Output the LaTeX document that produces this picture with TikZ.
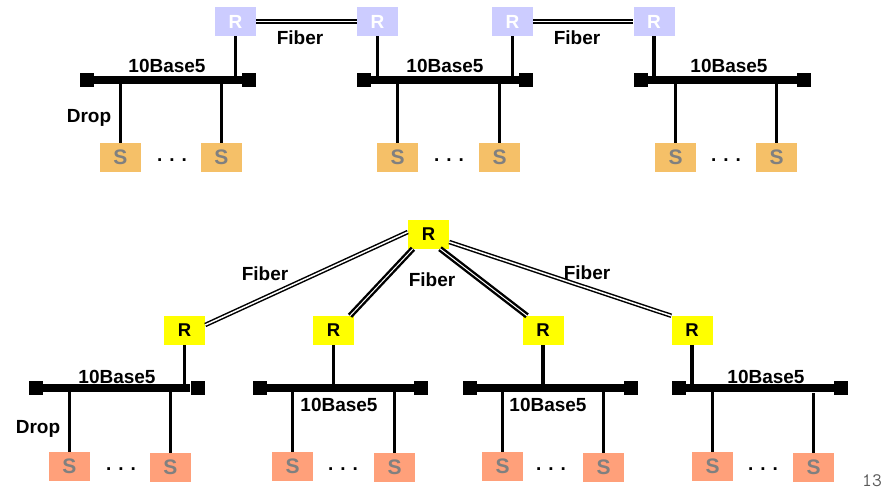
\documentclass[tikz,border=0pt]{standalone}
\usepackage{fontspec}
\setmainfont{Liberation Sans}
\usetikzlibrary{calc}
\definecolor{rtopc}{RGB}{204,204,255}
\definecolor{stopc}{RGB}{245,192,104}
\definecolor{sbotc}{RGB}{255,160,122}
\definecolor{yboxc}{RGB}{255,255,0}
\definecolor{sgreyc}{RGB}{128,128,128}
\tikzset{
  boxbase/.style={rectangle, inner sep=0pt, minimum width=41pt, minimum height=29pt},
  rtopbox/.style={boxbase, fill=rtopc, text=white, font=\fontsize{19}{19}\selectfont\bfseries},
  rbotbox/.style={boxbase, fill=yboxc, text=black, font=\fontsize{18.5}{18.5}\selectfont\bfseries},
  stopbox/.style={boxbase, fill=stopc, text=sgreyc, font=\fontsize{21}{21}\selectfont\bfseries},
  sbotbox/.style={boxbase, fill=sbotc, text=sgreyc, font=\fontsize{21}{21}\selectfont\bfseries},
  endcap/.style={rectangle, fill=black, inner sep=0pt, minimum width=14pt, minimum height=14.5pt},
  busline/.style={line width=7.5pt},
  dropline/.style={line width=3.2pt},
  fiberthin/.style={line width=1.5pt, double=white, double distance=1.5pt},
  fiberthick/.style={line width=2.4pt, double=white, double distance=1pt},
  lbl/.style={inner sep=0pt, anchor=base, font=\fontsize{19}{19}\selectfont\bfseries},
  dots/.style={inner sep=0pt, font=\fontsize{19}{19}\selectfont\bfseries},
}
\begin{document}
\begin{tikzpicture}[x=1pt, y=-1pt]
\useasboundingbox (0,0) rectangle (883,489);

% ---------- top row ----------
\node[rtopbox] (rt1) at (235.5,21.5) {R};
\node[rtopbox] (rt2) at (377.5,21.5) {R};
\node[rtopbox] (rt3) at (512.5,21.5) {R};
\node[rtopbox] (rt4) at (654,21.5) {R};

\node[endcap] (tl1) at (87,80) {};
\node[endcap] (tr1) at (249,80) {};
\node[endcap] (tl2) at (364,80) {};
\node[endcap] (tr2) at (526,80) {};
\node[endcap] (tl3) at (641,80) {};
\node[endcap] (tr3) at (804,80) {};

\node[stopbox] (st11) at (120.5,157.5) {S};
\node[stopbox] (st12) at (221.5,157.5) {S};
\node[stopbox] (st21) at (397.5,157.5) {S};
\node[stopbox] (st22) at (499.5,157.5) {S};
\node[stopbox] (st31) at (675.5,157.5) {S};
\node[stopbox] (st32) at (776.5,157.5) {S};

\draw[busline] (tl1) -- (tr1);
\draw[busline] (tl2) -- (tr2);
\draw[busline] (tl3) -- (tr3);

\draw[dropline] (rt1.south) -- (rt1.south |- tl1);
\draw[dropline] (rt2.south) -- (rt2.south |- tl2);
\draw[dropline] (rt3.south) -- (rt3.south |- tl2);
\draw[dropline] (rt4.south) -- (rt4.south |- tl3);

\foreach \s/\b in {st11/tl1, st12/tl1, st21/tl2, st22/tl2, st31/tl3, st32/tl3}
  \draw[dropline] (\s.north) -- (\s.north |- \b);

\draw[fiberthin] (rt1.east) -- (rt2.west);
\draw[fiberthin] (rt3.east) -- (rt4.west);

\node[lbl] (tf1) at (300,45) {Fiber};
\node[lbl] (tf2) at (577,45) {Fiber};
\node[lbl] (tb1) at (167,73) {10Base5};
\node[lbl] (tb2) at (445,73) {10Base5};
\node[lbl] (tb3) at (729,73) {10Base5};
\node[lbl] (tdrop) at (89,122.5) {Drop};
\node[dots] (td1) at (172,160) {. . .};
\node[dots] (td2) at (449,160) {. . .};
\node[dots] (td3) at (726,160) {. . .};

% ---------- bottom row ----------
\node[rbotbox] (hub) at (428.5,234) {R};
\node[rbotbox] (rb1) at (184.5,330.5) {R};
\node[rbotbox] (rb2) at (333.5,330.5) {R};
\node[rbotbox] (rb3) at (543,330.5) {R};
\node[rbotbox] (rb4) at (692,330.5) {R};

\node[endcap] (bl1) at (36,388) {};
\node[endcap] (br1) at (197.5,388) {};
\node[endcap] (bl2) at (259.5,388) {};
\node[endcap] (br2) at (421,388) {};
\node[endcap] (bl3) at (469.5,388) {};
\node[endcap] (br3) at (631,388) {};
\node[endcap] (bl4) at (679,388) {};
\node[endcap] (br4) at (841,388) {};

\node[sbotbox] (sb11) at (69.5,466.5) {S};
\node[sbotbox] (sb12) at (170.5,467.5) {S};
\node[sbotbox] (sb21) at (292.5,466.5) {S};
\node[sbotbox] (sb22) at (394.5,467.5) {S};
\node[sbotbox] (sb31) at (502.5,466.5) {S};
\node[sbotbox] (sb32) at (603.5,467.5) {S};
\node[sbotbox] (sb41) at (712.5,466.5) {S};
\node[sbotbox] (sb42) at (813.5,467.5) {S};

\draw[busline] (bl1) -- (br1);
\draw[busline] (bl2) -- (br2);
\draw[busline] (bl3) -- (br3);
\draw[busline] (bl4) -- (br4);

\draw[dropline] (rb1.south) -- (rb1.south |- bl1);
\draw[dropline] (rb2.south) -- (rb2.south |- bl2);
\draw[dropline] (rb3.south) -- (rb3.south |- bl3);
\draw[dropline] (rb4.south) -- (rb4.south |- bl4);

\foreach \s/\b in {sb11/bl1, sb12/bl1, sb21/bl2, sb22/bl2, sb31/bl3, sb32/bl3, sb41/bl4}
  \draw[dropline] (\s.north) -- (\s.north |- \b);
\draw[dropline] (sb42.north) -- ($(sb42.north |- bl4)+(0,5)$);

\draw[fiberthin] ([yshift=2pt]hub.west) -- ([yshift=5.5pt]rb1.east);
\draw[fiberthick] ([xshift=-15.5pt]hub.south) -- ([xshift=16.5pt]rb2.north);
\draw[fiberthick] ([xshift=11.5pt]hub.south) -- ([xshift=-16pt]rb3.north);
\draw[fiberthin] ([yshift=-8pt]hub.east) -- (rb4.north west);

\node[lbl] (bf1) at (265,280) {Fiber};
\node[lbl] (bf2) at (432,286) {Fiber};
\node[lbl] (bf3) at (587,279.5) {Fiber};
\node[lbl] (bb1) at (117,383) {10Base5};
\node[lbl] (bb2) at (339,411.5) {10Base5};
\node[lbl] (bb3) at (548,411.5) {10Base5};
\node[lbl] (bb4) at (766,383) {10Base5};
\node[lbl] (bdrop) at (38,433) {Drop};
\node[dots] (bd1) at (121,469) {. . .};
\node[dots] (bd2) at (343,469) {. . .};
\node[dots] (bd3) at (551,469) {. . .};
\node[dots] (bd4) at (763,469) {. . .};

\node[inner sep=0pt, anchor=base, text=black!65, font=\fontsize{19}{19}\selectfont\ttfamily] (pgno) at (872,486.5) {13};
\end{tikzpicture}
\end{document}
